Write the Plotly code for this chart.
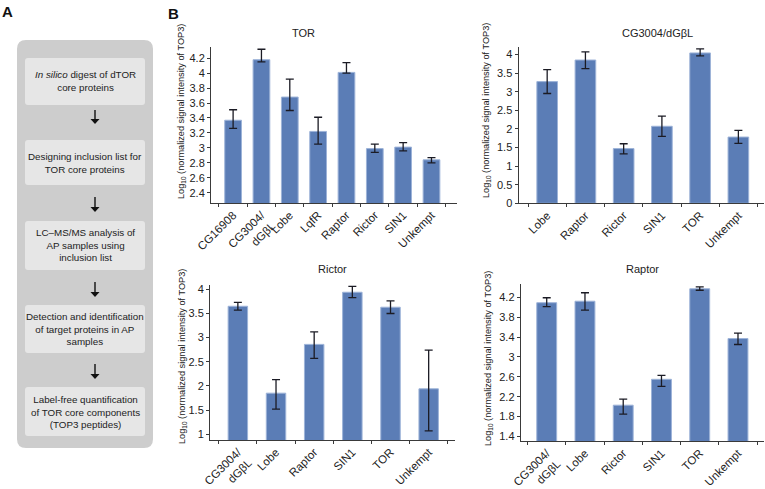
import plotly.graph_objects as go

W, H = 765, 489

# ---------------- data ----------------
tor_cats = ['CG16908', 'CG3004/<br>dGβL', 'Lobe', 'LqfR', 'Raptor', 'Rictor', 'SIN1', 'Unkempt']
tor_vals = [3.37, 4.18, 3.68, 3.22, 4.01, 2.99, 3.01, 2.84]
tor_plus = [0.14, 0.14, 0.24, 0.19, 0.13, 0.06, 0.06, 0.03]
tor_minus = [0.11, 0.03, 0.18, 0.17, 0.01, 0.05, 0.05, 0.04]

gbl_cats = ['Lobe', 'Raptor', 'Rictor', 'SIN1', 'TOR', 'Unkempt']
gbl_vals = [3.27, 3.85, 1.47, 2.07, 4.04, 1.78]
gbl_plus = [0.32, 0.22, 0.13, 0.27, 0.11, 0.18]
gbl_minus = [0.32, 0.23, 0.14, 0.27, 0.08, 0.17]

ric_cats = ['CG3004/<br>dGβL', 'Lobe', 'Raptor', 'SIN1', 'TOR', 'Unkempt']
ric_vals = [3.65, 1.85, 2.86, 3.94, 3.63, 1.94]
ric_plus = [0.08, 0.28, 0.26, 0.12, 0.13, 0.80]
ric_minus = [0.08, 0.33, 0.29, 0.11, 0.13, 0.87]

rap_cats = ['CG3004/<br>dGβL', 'Lobe', 'Rictor', 'SIN1', 'TOR', 'Unkempt']
rap_vals = [4.09, 4.12, 2.03, 2.55, 4.37, 3.37]
rap_plus = [0.10, 0.17, 0.12, 0.08, 0.04, 0.11]
rap_minus = [0.08, 0.18, 0.18, 0.14, 0.03, 0.12]

panel_titles = ['TOR', 'CG3004/dGβL', 'Rictor', 'Raptor']
flow_steps = [
    '<i>In silico</i> digest of dTOR<br>core proteins',
    'Designing inclusion list for<br>TOR core proteins',
    'LC–MS/MS analysis of<br>AP samples using<br>inclusion list',
    'Detection and identification<br>of target proteins in AP<br>samples',
    'Label-free quantification<br>of TOR core components<br>(TOP3 peptides)',
]
ytitle = 'Log<sub>10</sub> (normalized signal intensity of TOP3)'

# ---------------- styling ----------------
FONT = 'Liberation Sans, Arial, Helvetica, sans-serif'
BAR = '#5b7db6'
BAR_EDGE = '#9db3d8'
ERR = '#1b1b24'
AX = '#3a3a3a'


def px(x):
    return x / W


def py(y):
    return 1 - y / H


fig = go.Figure()

panels = [
    dict(cats=tor_cats, vals=tor_vals, plus=tor_plus, minus=tor_minus, xr=[-0.78, 7.9], yr=[2.262, 4.35],
         tick0=2.4, dtick=0.2, xd=[211, 457], yd=[47, 203], width=0.59,
         title=(303, 33), ytt=(182, 112)),
    dict(cats=gbl_cats, vals=gbl_vals, plus=gbl_plus, minus=gbl_minus, xr=[-0.75, 5.67], yr=[0, 4.2],
         tick0=0, dtick=0.5, xd=[518.5, 764], yd=[47, 203.3], width=0.54,
         title=(657, 33), ytt=(487, 110)),
    dict(cats=ric_cats, vals=ric_vals, plus=ric_plus, minus=ric_minus, xr=[-0.73, 5.69], yr=[0.88, 4.09],
         tick0=1, dtick=0.5, xd=[210, 455], yd=[285, 440], width=0.51,
         title=(332, 269), ytt=(182, 357)),
    dict(cats=rap_cats, vals=rap_vals, plus=rap_plus, minus=rap_minus, xr=[-0.68, 5.68], yr=[1.31, 4.46],
         tick0=1.4, dtick=0.4, xd=[520.7, 764], yd=[284.3, 441], width=0.52,
         title=(642, 269), ytt=(488, 358)),
]

annotations = []
for i, p in enumerate(panels):
    n = '' if i == 0 else str(i + 1)
    fig.add_trace(go.Bar(
        x=p['cats'], y=p['vals'], xaxis='x' + n, yaxis='y' + n,
        width=p['width'],
        marker=dict(color=BAR, line=dict(color=BAR_EDGE, width=1)),
        error_y=dict(type='data', symmetric=False, array=p['plus'], arrayminus=p['minus'],
                     color=ERR, thickness=1.3, width=4),
        showlegend=False, hoverinfo='skip'))
    fig.update_layout(**{
        'xaxis' + n: dict(domain=[px(p['xd'][0]), px(p['xd'][1])], anchor='y' + n,
                          range=p['xr'], type='category', tickangle=-45, automargin=False,
                          showline=True, linecolor=AX, linewidth=1,
                          ticks='outside', ticklen=3, tickcolor=AX, tickson='boundaries',
                          showgrid=False, zeroline=False,
                          tickfont=dict(family=FONT, size=11.5, color='#222')),
        'yaxis' + n: dict(domain=[py(p['yd'][1]), py(p['yd'][0])], anchor='x' + n,
                          range=p['yr'], tick0=p['tick0'], dtick=p['dtick'], automargin=False,
                          showline=True, linecolor=AX, linewidth=1,
                          ticks='outside', ticklen=3, tickcolor=AX,
                          showgrid=False, zeroline=False,
                          tickfont=dict(family=FONT, size=11, color='#222')),
    })
    annotations.append(dict(text=panel_titles[i], x=px(p['title'][0]), y=py(p['title'][1]),
                            xref='paper', yref='paper', showarrow=False,
                            xanchor='center', yanchor='middle',
                            font=dict(family=FONT, size=11, color='#222')))
    annotations.append(dict(text=ytitle, x=px(p['ytt'][0]), y=py(p['ytt'][1]),
                            xref='paper', yref='paper', showarrow=False, textangle=-90,
                            xanchor='center', yanchor='middle',
                            font=dict(family=FONT, size=9.2, color='#222')))

# ---------------- panel A flowchart ----------------


def rrect(x0, y0, x1, y1, r):
    rx, ry = r / W, r / H
    X0, X1 = px(x0), px(x1)
    Y0, Y1 = py(y1), py(y0)  # bottom, top in paper
    return (f'M {X0 + rx},{Y0} L {X1 - rx},{Y0} Q {X1},{Y0} {X1},{Y0 + ry} '
            f'L {X1},{Y1 - ry} Q {X1},{Y1} {X1 - rx},{Y1} '
            f'L {X0 + rx},{Y1} Q {X0},{Y1} {X0},{Y1 - ry} '
            f'L {X0},{Y0 + ry} Q {X0},{Y0} {X0 + rx},{Y0} Z')


shapes = [dict(type='path', path=rrect(17, 40, 153, 448, 9), xref='paper', yref='paper',
               fillcolor='#cdcdcd', line=dict(width=0), layer='below')]
boxes = [(58, 105), (140, 185), (221, 270), (305, 353), (387, 436)]
for (t, b), txt in zip(boxes, flow_steps):
    shapes.append(dict(type='path', path=rrect(25, t, 145, b, 3), xref='paper', yref='paper',
                       fillcolor='#e6e6e6', line=dict(width=0), layer='below'))
    annotations.append(dict(text=txt, x=px(85), y=py((t + b) / 2), xref='paper', yref='paper',
                            showarrow=False, align='center', xanchor='center', yanchor='middle',
                            font=dict(family=FONT, size=9.8, color='#222')))

arrows = [(110, 124), (197, 212), (282, 297), (364, 379)]
AXC = 95
for a0, a1 in arrows:
    shapes.append(dict(type='line', x0=px(AXC), x1=px(AXC), y0=py(a0), y1=py(a1 - 4),
                       xref='paper', yref='paper', line=dict(color='#111', width=1.4)))
    shapes.append(dict(type='path', xref='paper', yref='paper',
                       path=f'M {px(AXC - 4.5)},{py(a1 - 5)} L {px(AXC + 4.5)},{py(a1 - 5)} '
                            f'L {px(AXC)},{py(a1)} Z',
                       fillcolor='#111', line=dict(width=0)))

annotations.append(dict(text='<b>A</b>', x=px(7), y=py(12), xref='paper', yref='paper',
                        xanchor='center', yanchor='middle',
                        showarrow=False, font=dict(family=FONT, size=15, color='#111')))
annotations.append(dict(text='<b>B</b>', x=px(173), y=py(13), xref='paper', yref='paper',
                        xanchor='center', yanchor='middle',
                        showarrow=False, font=dict(family=FONT, size=15, color='#111')))

fig.update_layout(width=W, height=H, margin=dict(l=0, r=0, t=0, b=0, autoexpand=False),
                  paper_bgcolor='white', plot_bgcolor='white',
                  bargap=0.4, shapes=shapes, annotations=annotations,
                  font=dict(family=FONT))

fig.write_html('out.html', config={'displayModeBar': False},
               post_script="document.body.style.margin='0';document.body.style.padding='0';")
